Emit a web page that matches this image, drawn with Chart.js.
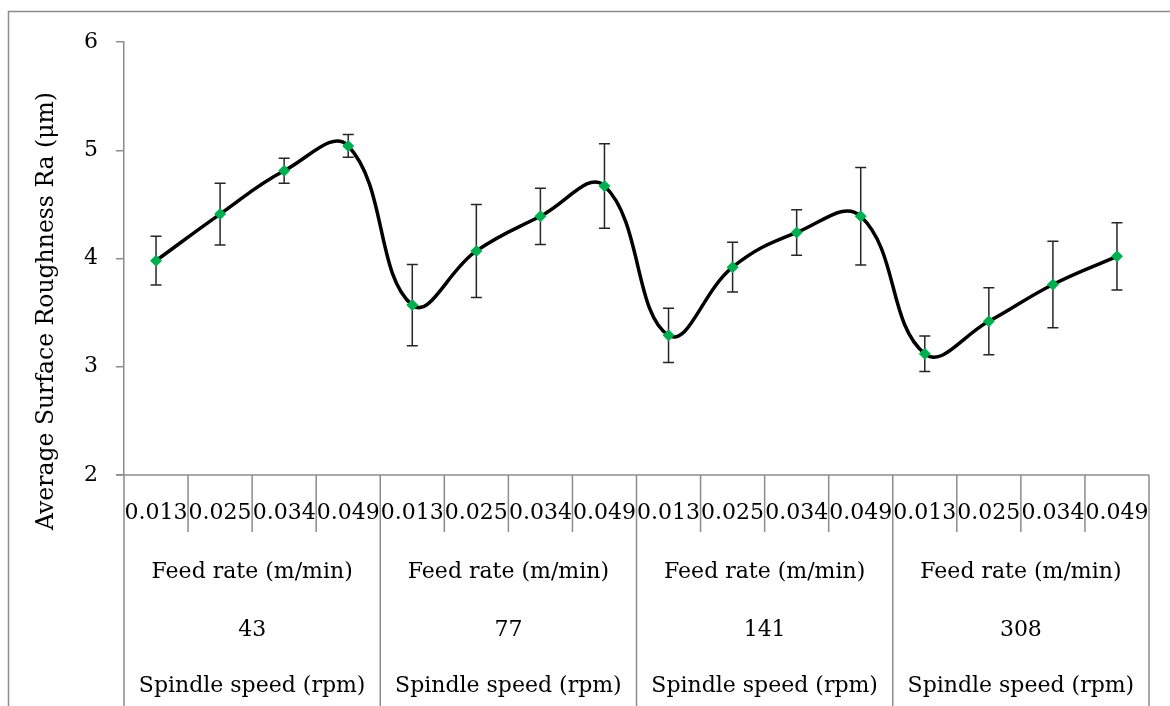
<!DOCTYPE html>
<html>
<head>
<meta charset="utf-8">
<script src="https://cdn.jsdelivr.net/npm/chart.js@4/dist/chart.umd.min.js"></script>
<style>
  html, body { margin: 0; padding: 0; background: #fff; }
  canvas { display: block; }
</style>
</head>
<body>
<canvas id="chart" width="1170" height="706"></canvas>
<script>
const feedRates = ["0.013", "0.025", "0.034", "0.049"];
const spindleSpeeds = ["43", "77", "141", "308"];
const roughness = [3.98, 4.41, 4.81, 5.04, 3.57, 4.07, 4.39, 4.67, 3.29, 3.92, 4.24, 4.39, 3.12, 3.42, 3.76, 4.02];
const stdDev = [0.225, 0.285, 0.115, 0.105, 0.375, 0.43, 0.26, 0.39, 0.25, 0.23, 0.21, 0.45, 0.165, 0.31, 0.40, 0.31];
const yTicks = [2, 3, 4, 5, 6];

const labels = spindleSpeeds.flatMap(() => feedRates);

const grey = "#8c8c8c";
const fontFamily = "'DejaVu Serif', serif";
const fontSize = 22;

// error bars, drawn under the markers
const errorBars = {
  id: "errorBars",
  beforeDatasetsDraw(chart) {
    const { ctx, scales: { x, y } } = chart;
    ctx.save();
    ctx.strokeStyle = "#262626";
    ctx.lineWidth = 1.5;
    roughness.forEach((v, i) => {
      const px = x.getPixelForValue(i);
      const top = y.getPixelForValue(v + stdDev[i]);
      const bot = y.getPixelForValue(v - stdDev[i]);
      ctx.beginPath();
      ctx.moveTo(px, top); ctx.lineTo(px, bot);
      ctx.moveTo(px - 5.5, top); ctx.lineTo(px + 5.5, top);
      ctx.moveTo(px - 5.5, bot); ctx.lineTo(px + 5.5, bot);
      ctx.stroke();
    });
    ctx.restore();
  }
};

// category table under the plot + frame + y title
const tableAxis = {
  id: "tableAxis",
  afterDraw(chart) {
    const { ctx, chartArea: a, scales: { x } } = chart;
    const step = x.getPixelForValue(1) - x.getPixelForValue(0);
    const h = chart.height;
    ctx.save();
    ctx.strokeStyle = grey;
    ctx.lineWidth = 1.5;

    // outer frame
    ctx.beginPath();
    ctx.moveTo(8.5, h); ctx.lineTo(8.5, 11.5); ctx.lineTo(chart.width, 11.5);
    ctx.stroke();

    // x axis line
    ctx.beginPath();
    ctx.moveTo(a.left - 8, a.bottom); ctx.lineTo(a.right, a.bottom);
    ctx.stroke();

    // cell dividers
    ctx.beginPath();
    for (let i = 0; i <= labels.length; i++) {
      const px = a.left + i * step;
      ctx.moveTo(px, a.bottom);
      ctx.lineTo(px, i % feedRates.length === 0 ? h : a.bottom + 57);
    }
    ctx.stroke();

    ctx.fillStyle = "#000";
    ctx.font = fontSize + "px " + fontFamily;
    ctx.textAlign = "center";
    ctx.textBaseline = "middle";
    labels.forEach((l, i) => {
      ctx.fillText(l, x.getPixelForValue(i), a.bottom + 38);
    });
    const groupW = step * feedRates.length;
    spindleSpeeds.forEach((s, g) => {
      const cx = a.left + groupW * (g + 0.5);
      ctx.fillText("Feed rate (m/min)", cx, a.bottom + 97);
      ctx.fillText(s, cx, a.bottom + 155);
      ctx.fillText("Spindle speed (rpm)", cx, a.bottom + 211);
    });

    // y axis title
    ctx.font = "23.5px " + fontFamily;
    ctx.translate(47, 311);
    ctx.rotate(-Math.PI / 2);
    ctx.fillText("Average Surface Roughness Ra (\u03bcm)", 0, 0);
    ctx.restore();
  }
};

new Chart(document.getElementById("chart"), {
  type: "line",
  data: {
    labels: labels,
    datasets: [{
      data: roughness,
      borderColor: "#000",
      borderWidth: 3.5,
      tension: 0.42,
      pointStyle: "rectRot",
      pointRadius: 6,
      pointBackgroundColor: "#00b050",
      pointBorderColor: "#00b050",
      pointBorderWidth: 0
    }]
  },
  options: {
    responsive: false,
    animation: false,
    layout: { padding: { top: 42, right: 21, left: 0, bottom: 0 } },
    plugins: {
      legend: { display: false },
      tooltip: { enabled: false }
    },
    scales: {
      x: {
        offset: true,
        grid: { display: false },
        border: { display: false },
        ticks: { display: false },
        afterFit(scale) { scale.height = 231; }
      },
      y: {
        min: yTicks[0],
        max: yTicks[yTicks.length - 1],
        afterBuildTicks(scale) { scale.ticks = yTicks.map(v => ({ value: v })); },
        grid: { drawOnChartArea: false, drawTicks: true, tickLength: 8, color: grey, lineWidth: 1.5 },
        border: { color: grey, width: 1.5 },
        ticks: {
          padding: 18,
          color: "#000",
          font: { family: fontFamily, size: fontSize }
        },
        afterFit(scale) { scale.width = 124; }
      }
    }
  },
  plugins: [errorBars, tableAxis]
});
</script>
</body>
</html>
